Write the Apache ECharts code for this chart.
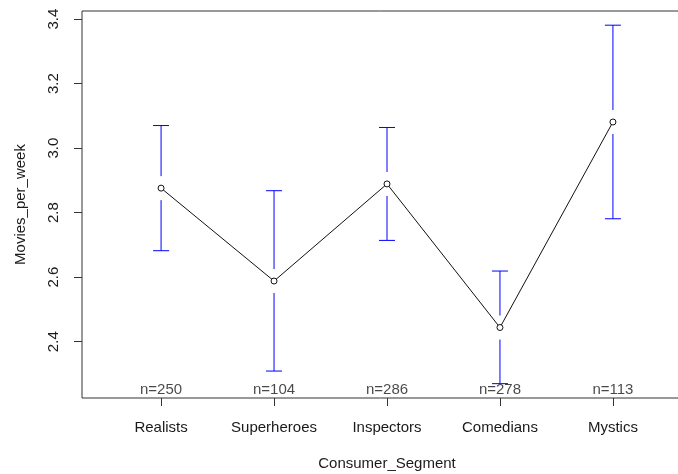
<!DOCTYPE html>
<html>
<head>
<meta charset="utf-8">
<script src="https://cdn.jsdelivr.net/npm/echarts@6/dist/echarts.min.js"></script>
<style>
  html, body { margin: 0; padding: 0; background: #fff; }
  #chart { width: 678px; height: 474px; }
</style>
</head>
<body>
<div id="chart"></div>
<script>
// Mean movies per week by consumer segment, with 95% confidence intervals
const categories = ['Realists', 'Superheroes', 'Inspectors', 'Comedians', 'Mystics'];
const means      = [2.876, 2.588, 2.889, 2.444, 3.081];
const ciLower    = [2.682, 2.309, 2.714, 2.270, 2.781];
const ciUpper    = [3.070, 2.868, 3.064, 2.619, 3.381];
const counts     = [250, 104, 286, 278, 113];
const yTicks     = [2.4, 2.6, 2.8, 3.0, 3.2, 3.4];

const Y_MIN = 2.2255, Y_MAX = 3.425;
const FONT = 'Liberation Sans, Arial, sans-serif';
const FS = 15;
const positions = categories.map((_, i) => i + 1);

const chart = echarts.init(document.getElementById('chart'), null, { renderer: 'canvas' });

const errData = positions.map((x, i) => [x, ciLower[i], ciUpper[i], means[i]]);

chart.setOption({
  animation: false,
  backgroundColor: '#ffffff',
  grid: {
    left: 82, top: 11, width: 610, height: 387,
    outerBoundsMode: 'none',
    show: true, borderColor: '#333', borderWidth: 1, backgroundColor: 'transparent'
  },
  xAxis: {
    type: 'value', min: 0.3, max: 5.7,
    name: 'Consumer_Segment', nameLocation: 'middle', nameGap: 58,
    nameTextStyle: { fontFamily: FONT, fontSize: FS, color: '#1a1a1a' },
    axisLine: { show: false },
    splitLine: { show: false },
    axisTick: { show: true, length: 8, lineStyle: { color: '#333' }, customValues: positions },
    axisLabel: {
      fontFamily: FONT, fontSize: FS, color: '#1a1a1a', margin: 22,
      customValues: positions,
      formatter: v => categories[Math.round(v) - 1] || ''
    }
  },
  yAxis: {
    type: 'value', min: Y_MIN, max: Y_MAX,
    name: 'Movies_per_week', nameLocation: 'middle', nameGap: 54,
    nameTextStyle: { fontFamily: FONT, fontSize: FS, color: '#1a1a1a' },
    axisLine: { show: false },
    splitLine: { show: false },
    axisTick: { show: true, length: 8, lineStyle: { color: '#333' }, customValues: yTicks },
    axisLabel: {
      fontFamily: FONT, fontSize: FS, color: '#1a1a1a', margin: 21, rotate: 90,
      customValues: yTicks,
      formatter: v => v.toFixed(1)
    }
  },
  series: [
    {
      // confidence interval bars, interrupted around the mean marker
      type: 'custom',
      data: errData,
      z: 2,
      renderItem: function (params, api) {
        const x = api.value(0);
        const lo = api.coord([x, api.value(1)]);
        const hi = api.coord([x, api.value(2)]);
        const mid = api.coord([x, api.value(3)]);
        const gap = 12, cap = 8;
        const style = { stroke: '#0000ff', lineWidth: 1 };
        const children = [
          { type: 'line', shape: { x1: hi[0], y1: hi[1], x2: hi[0], y2: mid[1] - gap }, style },
          { type: 'line', shape: { x1: lo[0], y1: mid[1] + gap, x2: lo[0], y2: lo[1] }, style },
          { type: 'line', shape: { x1: hi[0] - cap, y1: hi[1], x2: hi[0] + cap, y2: hi[1] }, style },
          { type: 'line', shape: { x1: lo[0] - cap, y1: lo[1], x2: lo[0] + cap, y2: lo[1] }, style }
        ];
        return { type: 'group', children };
      }
    },
    {
      // line through the group means
      type: 'line',
      data: positions.map((x, i) => [x, means[i]]),
      z: 3,
      symbol: 'circle',
      symbolSize: 6,
      showSymbol: true,
      lineStyle: { color: '#111', width: 1 },
      itemStyle: { color: '#ffffff', borderColor: '#111', borderWidth: 1 }
    },
    {
      // group sizes written along the bottom of the plot
      type: 'scatter',
      data: positions.map((x, i) => [x, Y_MIN]),
      symbolSize: 0,
      z: 4,
      label: {
        show: true, position: 'top', distance: 1,
        fontFamily: FONT, fontSize: FS, color: '#1a1a1a',
        formatter: p => 'n=' + counts[p.dataIndex]
      }
    }
  ]
});
</script>
</body>
</html>
